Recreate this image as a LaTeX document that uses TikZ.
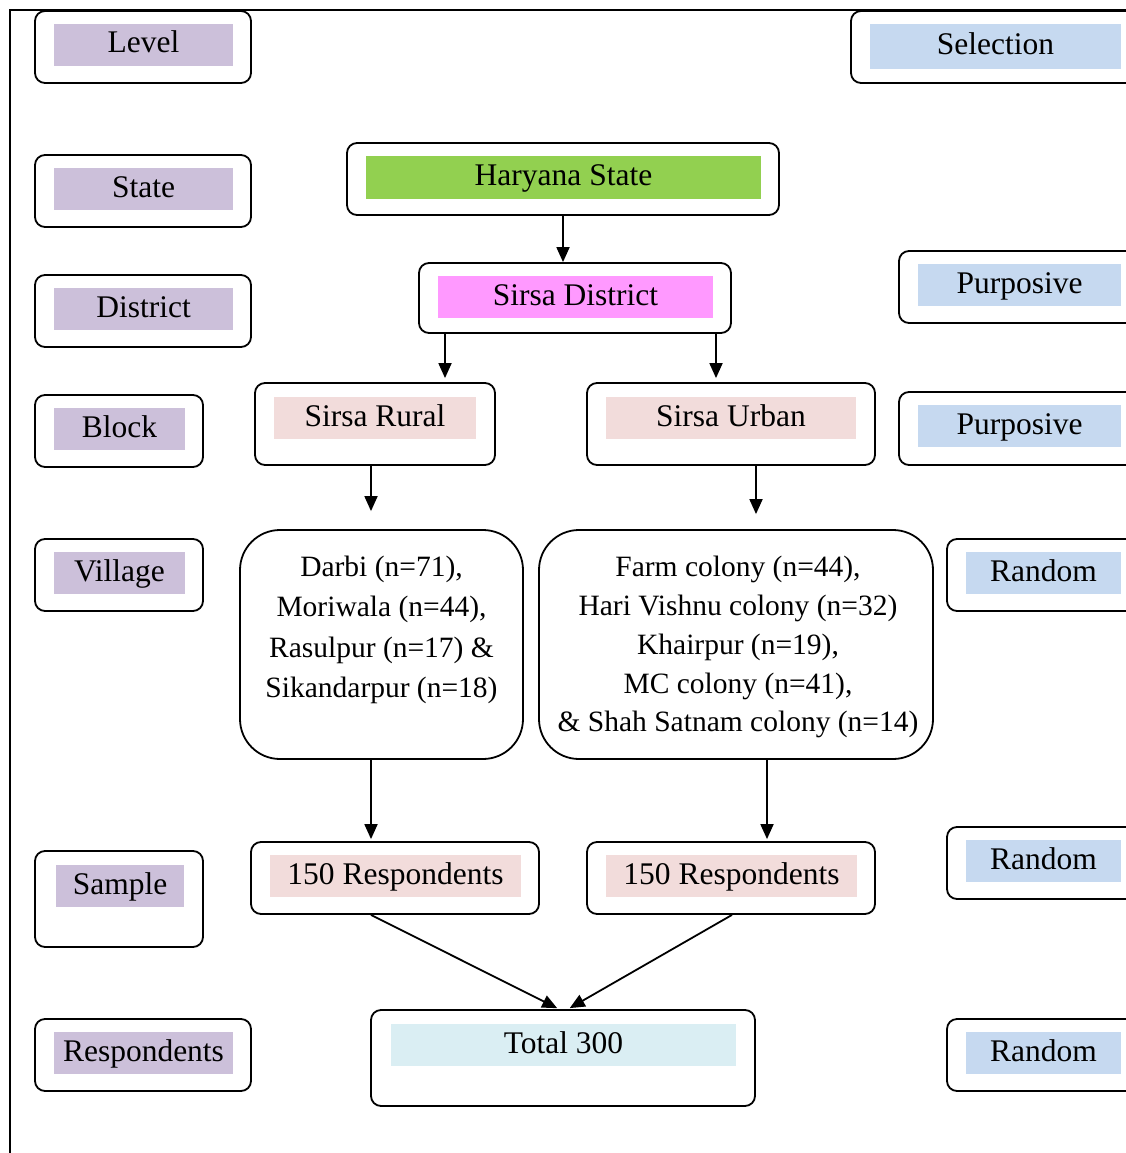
\documentclass[tikz,border=0pt]{standalone}
\usepackage{fontspec}
\setmainfont{Liberation Serif}
\usetikzlibrary{arrows.meta}
\definecolor{lav}{HTML}{CCC0DA}
\definecolor{selblue}{HTML}{C6D9F0}
\definecolor{hgreen}{HTML}{92D050}
\definecolor{dpink}{HTML}{FF99FF}
\definecolor{rose}{HTML}{F2DCDB}
\definecolor{totblue}{HTML}{DAEEF3}
\begin{document}
\begin{tikzpicture}[x=1pt,y=-1pt,
  outer/.style={draw, line width=1.8pt, rounded corners=10pt, fill=white, inner sep=0pt},
  lbl/.style={fill=#1, inner sep=0pt, text height=22pt, text depth=6pt, font=\fontsize{31.5}{38}\selectfont},
  multi/.style={align=center, inner sep=0pt, anchor=north},
  arr/.style={line width=1.8pt, -{Triangle[length=15pt,width=13pt]}}]
\useasboundingbox (0,0) rectangle (1126,1153);
\clip (0,0) rectangle (1126,1153);
\draw[line width=2pt] (10,1160) -- (10,10) -- (1130,10);

% left column: levels
\node[outer, minimum width=216pt, minimum height=72pt] (level) at (143,47) {};
\node[lbl=lav, minimum width=179pt, minimum height=42pt] (levelT) at (143.5,45) {Level};
\node[outer, minimum width=216pt, minimum height=72pt] (state) at (143,191) {};
\node[lbl=lav, minimum width=179pt, minimum height=42pt] (stateT) at (143.5,189) {State};
\node[outer, minimum width=216pt, minimum height=72pt] (district) at (143,311) {};
\node[lbl=lav, minimum width=179pt, minimum height=42pt] (districtT) at (143.5,309) {District};
\node[outer, minimum width=168pt, minimum height=72pt] (block) at (119,431) {};
\node[lbl=lav, minimum width=131pt, minimum height=42pt] (blockT) at (119.5,429) {Block};
\node[outer, minimum width=168pt, minimum height=72pt] (village) at (119,575) {};
\node[lbl=lav, minimum width=131pt, minimum height=42pt] (villageT) at (119.5,573) {Village};
\node[outer, minimum width=168pt, minimum height=96pt] (sample) at (119,899) {};
\node[lbl=lav, minimum width=128pt, minimum height=42pt] (sampleT) at (120,886) {Sample};
\node[outer, minimum width=216pt, minimum height=72pt] (resp) at (143,1055) {};
\node[lbl=lav, minimum width=179pt, minimum height=42pt] (respT) at (143.5,1053) {Respondents};

% right column: selection
\node[outer, minimum width=290pt, minimum height=72pt] (sel) at (996,47) {};
\node[lbl=selblue, minimum width=251pt, minimum height=45pt] (selT) at (995.5,46.5) {Selection};
\node[outer, minimum width=242pt, minimum height=72pt] (pur1) at (1020,287) {};
\node[lbl=selblue, minimum width=203pt, minimum height=42pt] (pur1T) at (1019.5,285) {Purposive};
\node[outer, minimum width=242pt, minimum height=73pt] (pur2) at (1020,428.5) {};
\node[lbl=selblue, minimum width=203pt, minimum height=42pt] (pur2T) at (1019.5,426) {Purposive};
\node[outer, minimum width=194pt, minimum height=72pt] (ran1) at (1044,575) {};
\node[lbl=selblue, minimum width=155pt, minimum height=42pt] (ran1T) at (1043.5,573) {Random};
\node[outer, minimum width=194pt, minimum height=72pt] (ran2) at (1044,863) {};
\node[lbl=selblue, minimum width=155pt, minimum height=42pt] (ran2T) at (1043.5,861) {Random};
\node[outer, minimum width=194pt, minimum height=72pt] (ran3) at (1044,1055) {};
\node[lbl=selblue, minimum width=155pt, minimum height=42pt] (ran3T) at (1043.5,1053) {Random};

% centre
\node[outer, minimum width=432pt, minimum height=72pt] (har) at (563,179) {};
\node[lbl=hgreen, minimum width=395pt, minimum height=43pt] (harT) at (563.5,177.5) {Haryana State};
\node[outer, minimum width=312pt, minimum height=70pt] (dis) at (575,298) {};
\node[lbl=dpink, minimum width=275pt, minimum height=42pt] (disT) at (575.5,297) {Sirsa District};
\node[outer, minimum width=240pt, minimum height=82pt] (rur) at (375,424) {};
\node[lbl=rose, minimum width=202pt, minimum height=42pt] (rurT) at (375,418) {Sirsa Rural};
\node[outer, minimum width=288pt, minimum height=82pt] (urb) at (731,424) {};
\node[lbl=rose, minimum width=250pt, minimum height=42pt] (urbT) at (731,418) {Sirsa Urban};

\node[outer, rounded corners=40pt, minimum width=283pt, minimum height=229pt] (vr) at (381.5,644.5) {};
\node[multi, font=\fontsize{29.5}{40.3}\selectfont] (vrT) at (381.5,556) {Darbi (n=71),\\Moriwala (n=44),\\Rasulpur (n=17) \&\\Sikandarpur (n=18)};
\node[outer, rounded corners=40pt, minimum width=394pt, minimum height=229pt] (vu) at (736,644.5) {};
\node[multi, font=\fontsize{29.5}{38.8}\selectfont] (vuT) at (738,556) {Farm colony (n=44),\\Hari Vishnu colony (n=32)\\Khairpur (n=19),\\MC colony (n=41),\\\& Shah Satnam colony (n=14)};

\node[outer, minimum width=288pt, minimum height=72pt] (s1) at (395,878) {};
\node[lbl=rose, minimum width=251pt, minimum height=42pt] (s1T) at (395.5,876) {150 Respondents};
\node[outer, minimum width=288pt, minimum height=72pt] (s2) at (731,878) {};
\node[lbl=rose, minimum width=251pt, minimum height=42pt] (s2T) at (731.5,876) {150 Respondents};

\node[outer, minimum width=384pt, minimum height=96pt] (tot) at (563,1058) {};
\node[lbl=totblue, minimum width=345pt, minimum height=42pt] (totT) at (563.5,1045) {Total 300};

% connectors
\coordinate (xa) at (445,0);
\coordinate (xb) at (716,0);
\coordinate (xc) at (371,0);
\coordinate (xd) at (756,0);
\coordinate (xe) at (767,0);
\coordinate (xf) at (732,0);
\draw[arr] (har.south) -- (har.south |- dis.north);
\draw[arr, shorten >=4pt] (dis.south -| xa) -- (rur.north -| xa);
\draw[arr, shorten >=4pt] (dis.south -| xb) -- (urb.north -| xb);
\draw[arr, shorten >=18pt] (rur.south -| xc) -- (vr.north -| xc);
\draw[arr, shorten >=15pt] (urb.south -| xd) -- (vu.north -| xd);
\draw[arr, shorten >=2pt] (vr.south -| xc) -- (s1.north -| xc);
\draw[arr, shorten >=2pt] (vu.south -| xe) -- (s2.north -| xe);
\draw[arr, shorten >=2pt] (s1.south -| xc) -- ([xshift=-4pt]tot.north);
\draw[arr, shorten >=2pt] (s2.south -| xf) -- ([xshift=5pt]tot.north);
\end{tikzpicture}
\end{document}
